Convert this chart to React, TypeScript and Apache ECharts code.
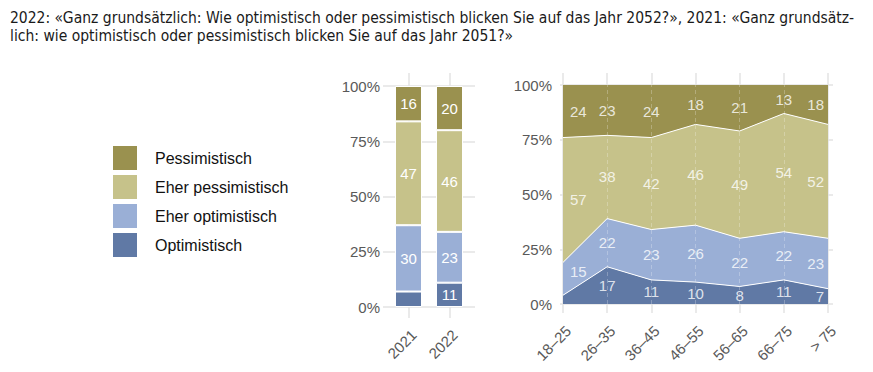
import React, { useEffect, useRef } from "react";
import * as echarts from "echarts";

const titleText =
  "2022: «Ganz grundsätzlich: Wie optimistisch oder pessimistisch blicken Sie auf das Jahr 2052?», 2021: «Ganz grundsätz-\nlich: wie optimistisch oder pessimistisch blicken Sie auf das Jahr 2051?»";

const seriesNames = ["Optimistisch", "Eher optimistisch", "Eher pessimistisch", "Pessimistisch"];
const seriesColors = ["#6079a5", "#9aafd6", "#c6c28a", "#9a914f"];

const years = ["2021", "2022"];
const yearOptimistisch = [7, 11];
const yearEherOptimistisch = [30, 23];
const yearEherPessimistisch = [47, 46];
const yearPessimistisch = [16, 20];

const ageGroups = ["18–25", "26–35", "36–45", "46–55", "56–65", "66–75", "> 75"];
const ageOptimistisch = [4, 17, 11, 10, 8, 11, 7];
const ageEherOptimistisch = [15, 22, 23, 26, 22, 22, 23];
const ageEherPessimistisch = [57, 38, 42, 46, 49, 54, 52];
const agePessimistisch = [24, 23, 24, 18, 21, 13, 18];

const yTicks = [0, 25, 50, 75, 100];

const FONT = "'Liberation Sans', Arial, Helvetica, sans-serif";
const TITLE_FONT = "'Liberation Sans Narrow', 'DejaVu Sans Condensed', 'Roboto Condensed', 'Arial Narrow', 'Liberation Sans', sans-serif";
const AXIS_GREY = "#595959";
const GRID_GREY = "#e3e3e3";

const yearData = [yearOptimistisch, yearEherOptimistisch, yearEherPessimistisch, yearPessimistisch];
const ageData = [ageOptimistisch, ageEherOptimistisch, ageEherPessimistisch, agePessimistisch];

function buildOption() {
  const barSeries = yearData.map((vals, s) => ({
    name: seriesNames[s],
    type: "bar",
    stack: "years",
    xAxisIndex: 0,
    yAxisIndex: 0,
    barWidth: 27,
    z: 3,
    itemStyle: { color: seriesColors[s], borderColor: "#ffffff", borderWidth: 1 },
    label: {
      show: true,
      position: "inside",
      color: "#ffffff",
      fontSize: 15,
      fontFamily: FONT,
      formatter: (p: any) => (p.value < 8 ? "" : String(p.value)),
    },
    data: vals,
  }));

  const areaSeries = ageData.map((vals, s) => ({
    name: seriesNames[s],
    type: "line",
    stack: "ages",
    xAxisIndex: 1,
    yAxisIndex: 1,
    symbol: "none",
    z: 3,
    itemStyle: { color: seriesColors[s] },
    lineStyle: { color: "#ffffff", width: s === 3 ? 0 : 1 },
    areaStyle: { color: seriesColors[s], opacity: 1 },
    data: vals,
  }));

  // label points in the middle of each band
  const labelPoints: any[] = [];
  const last = ageGroups.length - 1;
  for (let i = 0; i < ageGroups.length; i++) {
    let below = 0;
    for (let s = 0; s < ageData.length; s++) {
      const v = ageData[s][i];
      const mid = below + v / 2;
      below += v;
      if (v < 5) continue;
      const lab: any = {};
      if (i === 0) {
        lab.align = "left";
        lab.offset = [7, s === 1 ? -7 : 0];
      } else if (i === last) {
        lab.align = "right";
        lab.offset = [-4, 0];
      }
      labelPoints.push({ value: [i, mid, v], label: lab });
    }
  }

  const areaLabels = {
    type: "scatter",
    xAxisIndex: 1,
    yAxisIndex: 1,
    symbolSize: 0,
    z: 12,
    silent: true,
    label: {
      show: true,
      position: "inside",
      color: "#ffffff",
      fontSize: 15,
      fontFamily: FONT,
      formatter: (p: any) => String(p.value[2]),
    },
    data: labelPoints,
  };

  const gridLineStyle = { color: GRID_GREY, width: 1.5, type: "solid" };
  const leftGridLines = {
    type: "line",
    xAxisIndex: 2,
    yAxisIndex: 2,
    data: [],
    z: 0,
    silent: true,
    markLine: {
      z: 0,
      silent: true,
      symbol: "none",
      label: { show: false },
      lineStyle: gridLineStyle,
      data: [
        ...yTicks.map((v) => ({ yAxis: v })),
        ...years.map((_, i) => ({ xAxis: i })),
      ],
    },
  };
  const rightGridLines = {
    type: "line",
    xAxisIndex: 3,
    yAxisIndex: 3,
    data: [],
    z: 0,
    silent: true,
    markLine: {
      z: 0,
      silent: true,
      symbol: "none",
      label: { show: false },
      lineStyle: gridLineStyle,
      data: [
        ...yTicks.map((v) => ({ yAxis: v })),
        ...ageGroups.map((_, i) => ({ xAxis: i })),
      ],
    },
  };
  const seamLines = {
    type: "line",
    xAxisIndex: 1,
    yAxisIndex: 1,
    data: [],
    z: 10,
    silent: true,
    markLine: {
      z: 10,
      silent: true,
      symbol: "none",
      label: { show: false },
      lineStyle: { color: "rgba(255,255,255,0.25)", width: 1, type: [4, 3] },
      data: ageGroups.slice(1, last).map((c) => ({ xAxis: c })),
    },
  };

  const axisLabelBase = { color: AXIS_GREY, fontSize: 15, fontFamily: FONT };

  return {
    animation: false,
    backgroundColor: "#ffffff",
    title: {
      text: titleText,
      left: 5,
      top: 4,
      textStyle: {
        fontSize: 15.5,
        lineHeight: 18,
        fontWeight: "normal",
        color: "#1a1a1a",
        fontFamily: TITLE_FONT,
      },
    },
    legend: {
      orient: "vertical",
      left: 108,
      top: 141,
      itemWidth: 24,
      itemHeight: 24,
      itemGap: 5,
      icon: "rect",
      selectedMode: false,
      itemStyle: { borderWidth: 0 },
      textStyle: { fontSize: 16, color: "#111111", fontFamily: FONT, padding: [0, 0, 0, 13] },
      data: [...seriesNames].reverse(),
    },
    grid: [
      { left: 388, top: 86, width: 82, height: 221 },
      { left: 563, top: 85, width: 265, height: 219 },
      { left: 383, top: 73, width: 92, height: 245 },
      { left: 560, top: 73, width: 273, height: 240 },
    ],
    xAxis: [
      {
        type: "category",
        gridIndex: 0,
        data: years,
        axisLine: { show: false },
        axisTick: { show: false },
        axisLabel: { ...axisLabelBase, rotate: 45, margin: 20, verticalAlign: "top" },
      },
      {
        type: "category",
        gridIndex: 1,
        data: ageGroups,
        boundaryGap: false,
        axisLine: { show: false },
        axisTick: { show: false },
        splitLine: { show: false },
        axisLabel: { ...axisLabelBase, rotate: 45, margin: 19, verticalAlign: "top" },
      },
      { type: "value", gridIndex: 2, show: false, min: -0.634, max: 1.61, splitLine: { show: false } },
      { type: "value", gridIndex: 3, show: false, min: -0.068, max: 6.113, splitLine: { show: false } },
    ],
    yAxis: [
      {
        type: "value",
        gridIndex: 0,
        min: 0,
        max: 100,
        interval: 25,
        splitLine: { show: false },
        axisLine: { show: false },
        axisTick: { show: false },
        axisLabel: { ...axisLabelBase, margin: 8, formatter: "{value}%" },
      },
      {
        type: "value",
        gridIndex: 1,
        min: 0,
        max: 100,
        interval: 25,
        splitLine: { show: false },
        axisLine: { show: false },
        axisTick: { show: false },
        axisLabel: { ...axisLabelBase, margin: 11, formatter: "{value}%" },
      },
      { type: "value", gridIndex: 2, show: false, min: -4.98, max: 105.9, splitLine: { show: false } },
      { type: "value", gridIndex: 3, show: false, min: -4.1, max: 105.5, splitLine: { show: false } },
    ],
    series: [leftGridLines, rightGridLines, ...barSeries, ...areaSeries, seamLines, areaLabels],
  };
}

export default function App() {
  const ref = useRef<HTMLDivElement>(null);
  useEffect(() => {
    if (!ref.current) return;
    const chart = echarts.init(ref.current, undefined, { renderer: "svg" });
    chart.setOption(buildOption() as any);
    return () => chart.dispose();
  }, []);
  return (
    <div
      ref={ref}
      style={{ position: "absolute", left: 0, top: 0, width: 873, height: 372 }}
    />
  );
}
